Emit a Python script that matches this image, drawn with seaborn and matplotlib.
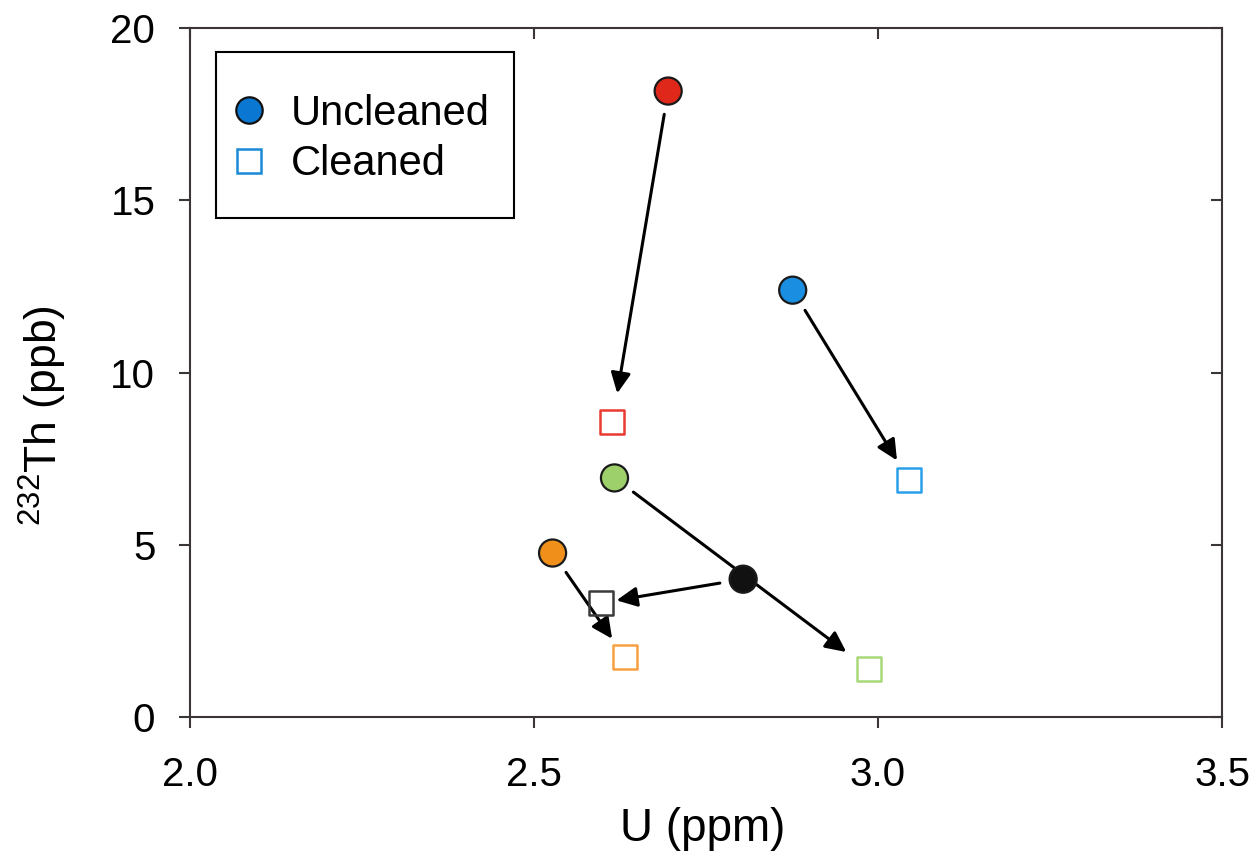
import matplotlib
matplotlib.use("Agg")
import matplotlib.pyplot as plt
import seaborn as sns
import pandas as pd
from matplotlib.lines import Line2D
from matplotlib.patches import Rectangle

sns.set_theme(style="white")
plt.rcParams['font.family'] = ['Liberation Sans', 'DejaVu Sans']
plt.rcParams['mathtext.fontset'] = 'custom'
plt.rcParams['mathtext.rm'] = 'Liberation Sans'
plt.rcParams['text.color'] = 'black'
plt.rcParams['axes.labelcolor'] = 'black'
plt.rcParams['xtick.color'] = 'black'
plt.rcParams['ytick.color'] = 'black'

samples = ["red", "blue", "green", "orange", "black"]
u_uncleaned = [2.695, 2.876, 2.617, 2.527, 2.804]
th_uncleaned = [18.17, 12.39, 6.94, 4.76, 4.00]
u_cleaned = [2.614, 3.045, 2.987, 2.632, 2.597]
th_cleaned = [8.56, 6.88, 1.39, 1.74, 3.31]

circle_colors = ["#e0281a", "#1a8ee0", "#9dcf6a", "#f0901a", "#111111"]
square_colors = ["#e83a30", "#2aa0e8", "#a8d878", "#f8a040", "#3a3a3a"]
x_ticks = [2.0, 2.5, 3.0, 3.5]
x_ticklabels = ["2.0", "2.5", "3.0", "3.5"]
y_ticks = [0, 5, 10, 15, 20]

df_u = pd.DataFrame({"sample": samples, "U": u_uncleaned, "Th": th_uncleaned})
df_c = pd.DataFrame({"sample": samples, "U": u_cleaned, "Th": th_cleaned})

fig = plt.figure(figsize=(12.58, 8.58), dpi=100)
ax = fig.add_axes([190/1258, 1-717/858, 1032/1258, 689/858])

spine_c = "#3b3536"

# arrows (gap at the arrow end, in points, per arrow)
end_gaps = [21, 16.5, 20.5, 16, 11.5]
for x0, y0, x1, y1, g in zip(u_uncleaned, th_uncleaned, u_cleaned, th_cleaned, end_gaps):
    ax.annotate("", xy=(x1, y1), xytext=(x0, y0),
                arrowprops=dict(arrowstyle="-|>,head_length=0.62,head_width=0.3",
                                color="black", lw=2.2, shrinkA=17, shrinkB=g,
                                mutation_scale=20), zorder=2)

sns.scatterplot(data=df_u, x="U", y="Th", hue="sample",
                palette=dict(zip(samples, circle_colors)), marker="o", s=380,
                edgecolor="#1a1a1a", linewidth=1.6, legend=False, ax=ax, zorder=3)
sns.scatterplot(data=df_c, x="U", y="Th", hue="sample",
                palette=dict(zip(samples, square_colors)), marker="s", s=300,
                linewidth=1.8, legend=False, ax=ax, zorder=3)
sq = ax.collections[-1]
fc = sq.get_facecolors()
sq.set_edgecolors(fc)
sq.set_facecolors("none")

ax.set_xlim(2.0, 3.5)
ax.set_ylim(0, 20)
ax.set_xticks(x_ticks)
ax.set_xticklabels(x_ticklabels)
ax.set_yticks(y_ticks)
ax.set_yticklabels([str(t) for t in y_ticks])

for s in ax.spines.values():
    s.set_color(spine_c)
    s.set_linewidth(1.5)

ax.tick_params(axis="both", direction="out", length=8, width=1.5, color=spine_c,
               labelsize=29, labelcolor="black",
               bottom=True, left=True, top=False, right=False)
ax.tick_params(axis="x", pad=20)
ax.tick_params(axis="y", pad=17)

secx = ax.secondary_xaxis("top")
secx.set_xticks(x_ticks)
secx.tick_params(direction="in", length=8, width=1.5, color=spine_c, labeltop=False)
secx.spines["top"].set_visible(False)
secy = ax.secondary_yaxis("right")
secy.set_yticks(y_ticks)
secy.tick_params(direction="in", length=8, width=1.5, color=spine_c, labelright=False)
secy.spines["right"].set_visible(False)

ax.set_xlabel("U (ppm)", fontsize=33, color="black")
ax.set_ylabel("$^{232}$Th (ppb)", fontsize=32, color="black")
ax.xaxis.set_label_coords(0.497, -0.131)
ax.yaxis.set_label_coords(-0.1172, 0.437)

# legend box
ax.add_patch(Rectangle((26/1032, (717-218)/689), 298/1032, 166/689,
                       transform=ax.transAxes, fill=False, edgecolor="black",
                       linewidth=1.5, zorder=4))
handles = [
    Line2D([], [], ls="none", marker="o", markersize=19, markerfacecolor="#0a78d2",
           markeredgecolor="#111111", markeredgewidth=1.6),
    Line2D([], [], ls="none", marker="s", markersize=17, markerfacecolor="none",
           markeredgecolor="#1a8ad8", markeredgewidth=1.8),
]
ax.legend(handles, ["Uncleaned", "Cleaned"], loc="upper left",
          bbox_to_anchor=(42/1032, (717-94)/689), frameon=False, fontsize=30,
          handlelength=0.8, handletextpad=0.62, labelspacing=0.25, borderpad=0,
          borderaxespad=0, labelcolor="black")

fig.savefig("out.png", dpi=100)
